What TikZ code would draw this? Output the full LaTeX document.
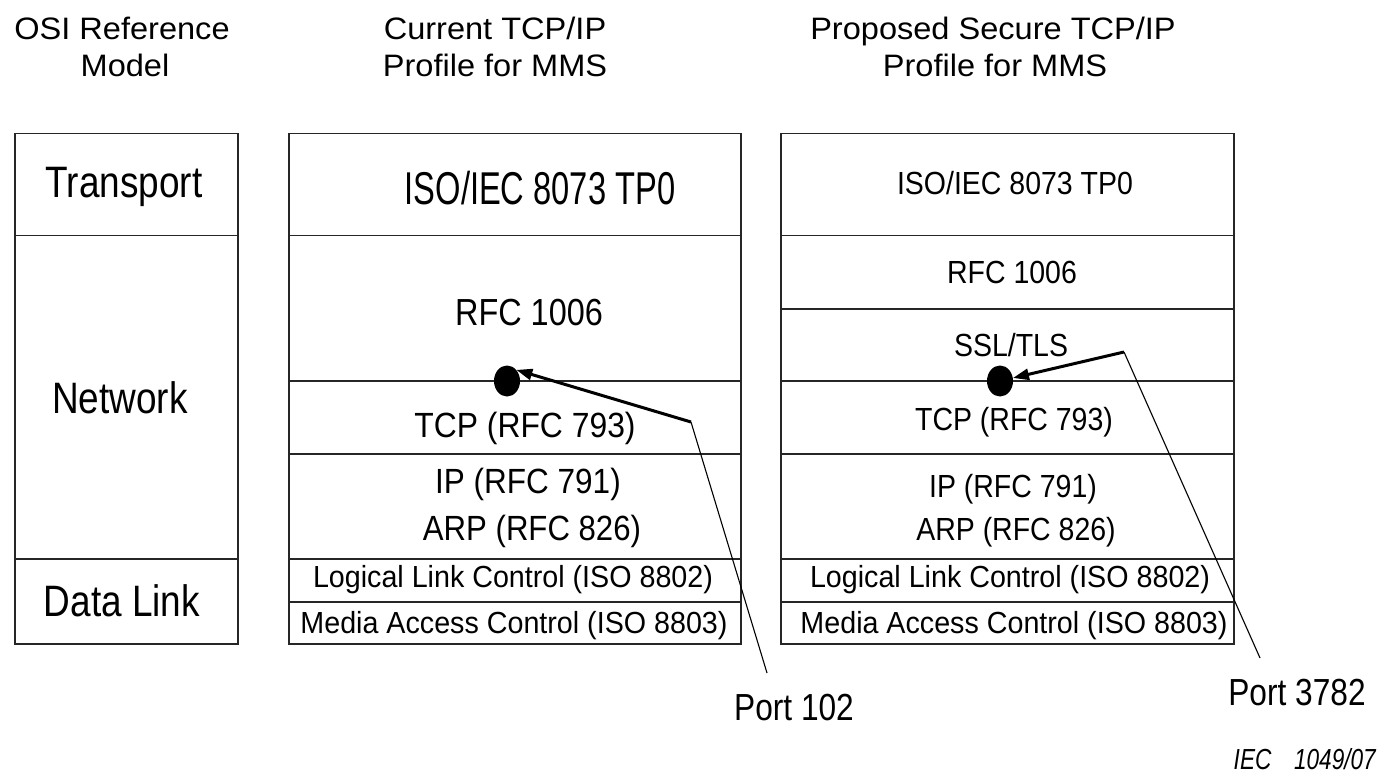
\documentclass[tikz,border=0pt]{standalone}
\usepackage{fontspec}
\setmainfont{Liberation Sans}
\usetikzlibrary{arrows.meta,shapes.geometric}
\newcommand\tx[3]{\scalebox{#2}[1]{\fontsize{#1pt}{#1pt}\selectfont #3}}
\begin{document}
\begin{tikzpicture}[x=1pt,y=-1pt,
  cell/.style={draw=black!85, line width=1.5pt, anchor=north west, inner sep=0pt, minimum width=#1},
  txt/.style={anchor=base, inner sep=0pt},
  dotnode/.style={ellipse, fill=black, inner sep=0pt, minimum width=26pt, minimum height=31pt},
  pointer/.style={line width=3pt, -{Triangle[length=16pt,width=11pt]}},
  leader/.style={line width=1.1pt}]
\useasboundingbox (0,0) rectangle (1384,778);

% headers
\node[txt] (h1a) at (122,40) {\tx{31}{1.05}{OSI Reference}};
\node[txt] (h1b) at (125,77) {\tx{31}{1.05}{Model}};
\node[txt] (h2a) at (495,40) {\tx{31}{1.05}{Current TCP/IP}};
\node[txt] (h2b) at (495,77) {\tx{31}{1.05}{Profile for MMS}};
\node[txt] (h3a) at (993,40) {\tx{31}{1.05}{Proposed Secure TCP/IP}};
\node[txt] (h3b) at (995,77) {\tx{31}{1.05}{Profile for MMS}};

% OSI column
\node[cell=223pt, minimum height=102pt] (osiT) at (14,133) {};
\node[cell=223pt, minimum height=323pt] (osiN) at (14,235) {};
\node[cell=223pt, minimum height=85pt] (osiD) at (14,558) {};
\node[txt] (tT) at (124,198) {\tx{44}{0.84}{Transport}};
\node[txt] (tN) at (120,413) {\tx{44}{0.84}{Network}};
\node[txt] (tD) at (122,616) {\tx{44}{0.84}{Data Link}};

% current profile
\node[cell=452pt, minimum height=102pt] (m1) at (288,133) {};
\node[cell=452pt, minimum height=145pt] (m2) at (288,235) {};
\node[cell=452pt, minimum height=73pt] (m3) at (288,380) {};
\node[cell=452pt, minimum height=105pt] (m4) at (288,453) {};
\node[cell=452pt, minimum height=43pt] (m5) at (288,558) {};
\node[cell=452pt, minimum height=42pt] (m6) at (288,601) {};
\node[txt] (tm1) at (540,205) {\tx{46}{0.71}{ISO/IEC 8073 TP0}};
\node[txt] (tm2) at (529,325) {\tx{37.7}{0.86}{RFC 1006}};
\node[txt] (tm3) at (525,437) {\tx{35}{0.91}{TCP (RFC 793)}};
\node[txt] (tm4) at (528,493) {\tx{35}{0.9}{IP (RFC 791)}};
\node[txt] (tm5) at (532,540) {\tx{35}{0.89}{ARP (RFC 826)}};
\node[txt] (tm6) at (513,587) {\tx{30.5}{0.94}{Logical Link Control (ISO 8802)}};
\node[txt] (tm7) at (514,633) {\tx{30.5}{0.94}{Media Access Control (ISO 8803)}};

% proposed profile
\node[cell=453pt, minimum height=102pt] (r1) at (780,133) {};
\node[cell=453pt, minimum height=73pt] (r2) at (780,235) {};
\node[cell=453pt, minimum height=72pt] (r3) at (780,308) {};
\node[cell=453pt, minimum height=73pt] (r4) at (780,380) {};
\node[cell=453pt, minimum height=105pt] (r5) at (780,453) {};
\node[cell=453pt, minimum height=43pt] (r6) at (780,558) {};
\node[cell=453pt, minimum height=42pt] (r7) at (780,601) {};
\node[txt] (tr1) at (1015,195) {\tx{32}{0.89}{ISO/IEC 8073 TP0}};
\node[txt] (tr2) at (1012,283) {\tx{32}{0.89}{RFC 1006}};
\node[txt] (tr3) at (1011,356) {\tx{32}{0.89}{SSL/TLS}};
\node[txt] (tr4) at (1014,430) {\tx{32}{0.89}{TCP (RFC 793)}};
\node[txt] (tr5) at (1013,497) {\tx{32}{0.89}{IP (RFC 791)}};
\node[txt] (tr6) at (1016,540) {\tx{32}{0.89}{ARP (RFC 826)}};
\node[txt] (tr7) at (1010,587) {\tx{30.5}{0.94}{Logical Link Control (ISO 8802)}};
\node[txt] (tr8) at (1014,633) {\tx{30.5}{0.94}{Media Access Control (ISO 8803)}};

% ports
\node[dotnode] (d1) at (507,381) {};
\node[dotnode] (d2) at (1000,381) {};
\coordinate (k1) at (691,422);
\coordinate (e1) at (767,673);
\coordinate (k2) at (1124,352);
\coordinate (e2) at (1260,658);
\draw[pointer] (k1) -- (d1.north east);
\draw[leader] (k1) -- (e1);
\draw[pointer] (k2) -- (d2);
\draw[leader] (k2) -- (e2);
\node[txt] (p1) at (794,720) {\tx{37.7}{0.84}{Port 102}};
\node[txt] (p2) at (1297,705) {\tx{37.7}{0.84}{Port 3782}};

\node[anchor=base east, inner sep=0pt] (iec) at (1376,769) {\tx{29}{0.78}{\itshape IEC\hspace{1em}1049/07}};
\end{tikzpicture}
\end{document}
